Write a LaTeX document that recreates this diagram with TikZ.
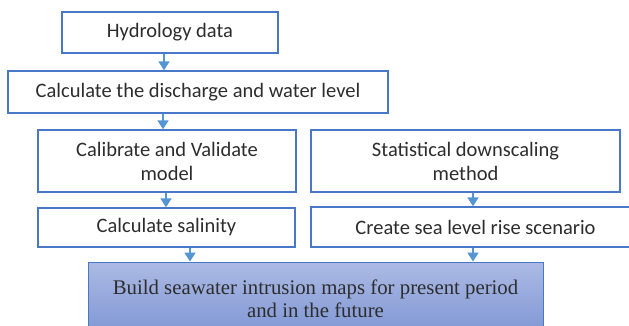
\documentclass[tikz,border=0pt]{standalone}
\usepackage{fontspec}
\setmainfont{Liberation Serif}
\newfontfamily\boxfont{Carlito}
\usetikzlibrary{arrows.meta}
\definecolor{boxline}{RGB}{74,120,200}
\definecolor{arrowblue}{RGB}{84,150,212}
\definecolor{inktext}{RGB}{45,45,45}
\definecolor{mapstop}{RGB}{172,186,228}
\definecolor{mapsbottom}{RGB}{126,150,212}
\begin{document}
\begin{tikzpicture}[x=1pt,y=-1pt,
  stepbox/.style={draw=boxline,line width=1.4pt,fill=white,inner sep=0pt,
    align=center,text=inktext,font=\boxfont\fontsize{20.5}{24}\selectfont},
  mapbox/.style={draw=boxline,line width=1pt,top color=mapstop,bottom color=mapsbottom,
    inner sep=0pt,align=center,text=inktext,font=\fontsize{20.8}{23}\selectfont},
  arr/.style={draw=arrowblue,line width=1.8pt,-{Triangle[width=11pt,length=9pt]}}]
\useasboundingbox (0,0) rectangle (629,326);

% process boxes
\node[stepbox,minimum width=216pt,minimum height=41pt] (hyd) at (170,32.5) {Hydrology data};
\node[stepbox,minimum width=380pt,minimum height=42pt] (dis) at (198,92) {Calculate the discharge and water level};
\node[stepbox,minimum width=258pt,minimum height=62pt] (cal) at (167,161) {Calibrate and Validate\\model};
\node[stepbox,minimum width=309pt,minimum height=62pt] (sds) at (465.5,161) {Statistical downscaling\\method};
\node[stepbox,minimum width=257pt,minimum height=39pt] (sal) at (166.5,227.5) {Calculate salinity};
\node[stepbox,minimum width=329pt,minimum height=40pt] (slr) at (475.5,227) {Create sea level rise scenario};
\node[mapbox,minimum width=455pt,minimum height=74pt] (map) at (315.5,299)
  {Build seawater intrusion maps for present period\\and in the future};

% arrow columns
\coordinate (c1) at (164,0);
\coordinate (c2) at (163,0);
\coordinate (c3) at (166,0);
\coordinate (c4) at (190,0);
\coordinate (c5) at (473,0);

% connectors
\draw[arr] (hyd.south -| c1) -- (dis.north -| c1);
\draw[arr] (dis.south -| c2) -- (cal.north -| c2);
\draw[arr] (cal.south -| c3) -- (sal.north -| c3);
\draw[arr] (sds.south -| c5) -- (slr.north -| c5);
\draw[arr] (sal.south -| c4) -- (map.north -| c4);
\draw[arr] (slr.south -| c5) -- (map.north -| c5);
\end{tikzpicture}
\end{document}
